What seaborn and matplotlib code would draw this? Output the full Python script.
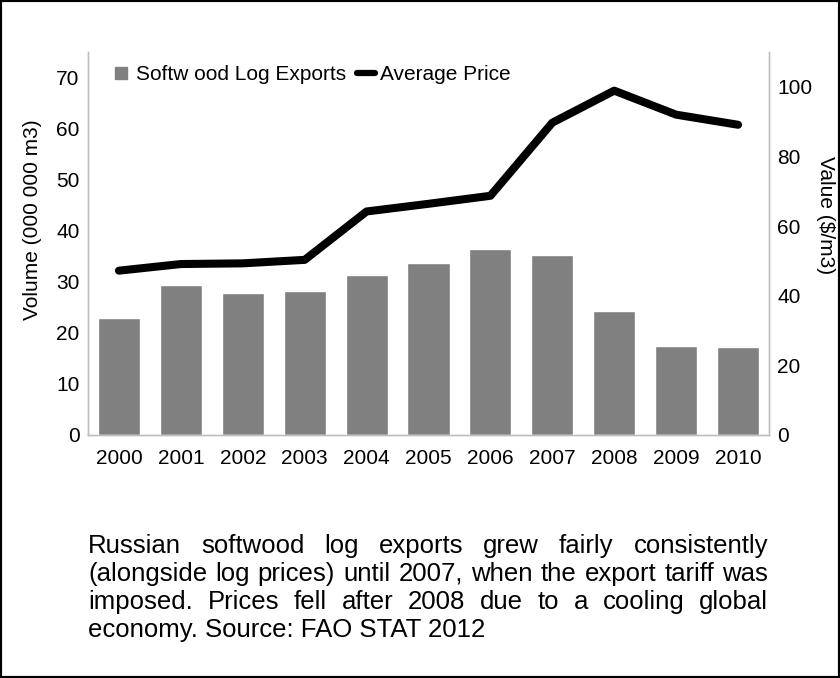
import matplotlib
matplotlib.use("Agg")
import matplotlib.pyplot as plt
from matplotlib.lines import Line2D
from matplotlib.patches import Rectangle
import pandas as pd
import seaborn as sns

# data
years   = ["2000", "2001", "2002", "2003", "2004", "2005", "2006", "2007", "2008", "2009", "2010"]
exports = [22.9, 29.4, 27.8, 28.2, 31.4, 33.7, 36.5, 35.3, 24.3, 17.5, 17.3]   # 000 000 m3
price   = [47.2, 49.1, 49.3, 50.3, 64.2, 66.4, 68.7, 89.7, 98.9, 92.0, 89.1]   # $/m3

left_ticks  = [0, 10, 20, 30, 40, 50, 60, 70]
right_ticks = [0, 20, 40, 60, 80, 100]

caption_lines = [
    "Russian softwood log exports grew fairly consistently",
    "(alongside log prices) until 2007, when the export tariff was",
    "imposed. Prices fell after 2008 due to a cooling global",
    "economy. Source: FAO STAT 2012",
]

df = pd.DataFrame({"Year": years, "Exports": exports, "Price": price})

sns.set_theme(style="white")
plt.rcParams["font.family"] = ["Liberation Sans", "DejaVu Sans"]
plt.rcParams["text.color"] = "black"
plt.rcParams["axes.labelcolor"] = "black"

W, H = 840, 678
FS = 15
fig = plt.figure(figsize=(W / 100, H / 100), dpi=100)
ax = fig.add_axes([88 / W, 1 - 435 / H, (769 - 88) / W, (435 - 52) / H])

sns.barplot(data=df, x="Year", y="Exports", color="#808080", saturation=1,
            width=0.68, ax=ax)

ax2 = ax.twinx()
sns.pointplot(data=df, x="Year", y="Price", color="black", markers="",
              linewidth=5.8, errorbar=None, ax=ax2)

ax.set_ylim(0, 75)
ax.set_yticks(left_ticks)
ax2.set_ylim(0, 110)
ax2.set_yticks(right_ticks)
ax.set_xlim(-0.5, len(years) - 0.5)

grey = "#bfbfbf"
for a in (ax, ax2):
    a.grid(False)
    a.spines["top"].set_visible(False)
    for side in ("left", "right", "bottom"):
        a.spines[side].set_color(grey)
        a.spines[side].set_linewidth(1)
    a.tick_params(length=0, labelsize=FS, colors="black")
ax.tick_params(axis="y", pad=6)
ax.tick_params(axis="x", pad=10)
ax2.tick_params(axis="y", pad=6)

ax.set_xlabel("")
ax.set_ylabel("Volume (000 000 m3)", fontsize=FS, va="center", color="black")
ax.yaxis.set_label_coords((33 - 88) / 681, (435 - 220) / 383)
ax2.set_ylabel("Value ($/m3)", fontsize=FS, rotation=270, va="center", color="black")
ax2.yaxis.set_label_coords((825 - 88) / 681, (435 - 215) / 383)

handles = [
    Line2D([], [], marker="s", color="#808080", linestyle="", markersize=9),
    Line2D([], [], color="black", lw=4.5),
]
fig.legend(handles, ["Softw ood Log Exports", "Average Price"], ncol=2,
           loc="center left", bbox_to_anchor=(112 / W, 1 - 75 / H),
           frameon=False, fontsize=FS, handlelength=0.9, handletextpad=0.25,
           columnspacing=0.5, borderpad=0, borderaxespad=0, labelcolor="black")

# justified caption below the chart
fig.canvas.draw()
renderer = fig.canvas.get_renderer()
x0, x1 = 88, 768
base, step = 553, 28
CFS = 18.5
for i, line in enumerate(caption_lines):
    y = 1 - (base + i * step) / H
    if i == len(caption_lines) - 1:
        fig.text(x0 / W, y, line, fontsize=CFS, va="baseline", color="black")
        continue
    words = line.split()
    texts = [fig.text(0, y, w, fontsize=CFS, va="baseline", color="black") for w in words]
    widths = [t.get_window_extent(renderer).width for t in texts]
    gap = ((x1 - x0) - sum(widths)) / (len(words) - 1)
    x = x0
    for t, w in zip(texts, widths):
        t.set_x(x / W)
        x += w + gap

fig.patches.append(Rectangle((0, 0), 1, 1, transform=fig.transFigure,
                             fill=False, edgecolor="black", lw=3))

fig.savefig("out.png", dpi=100)
plt.close(fig)
